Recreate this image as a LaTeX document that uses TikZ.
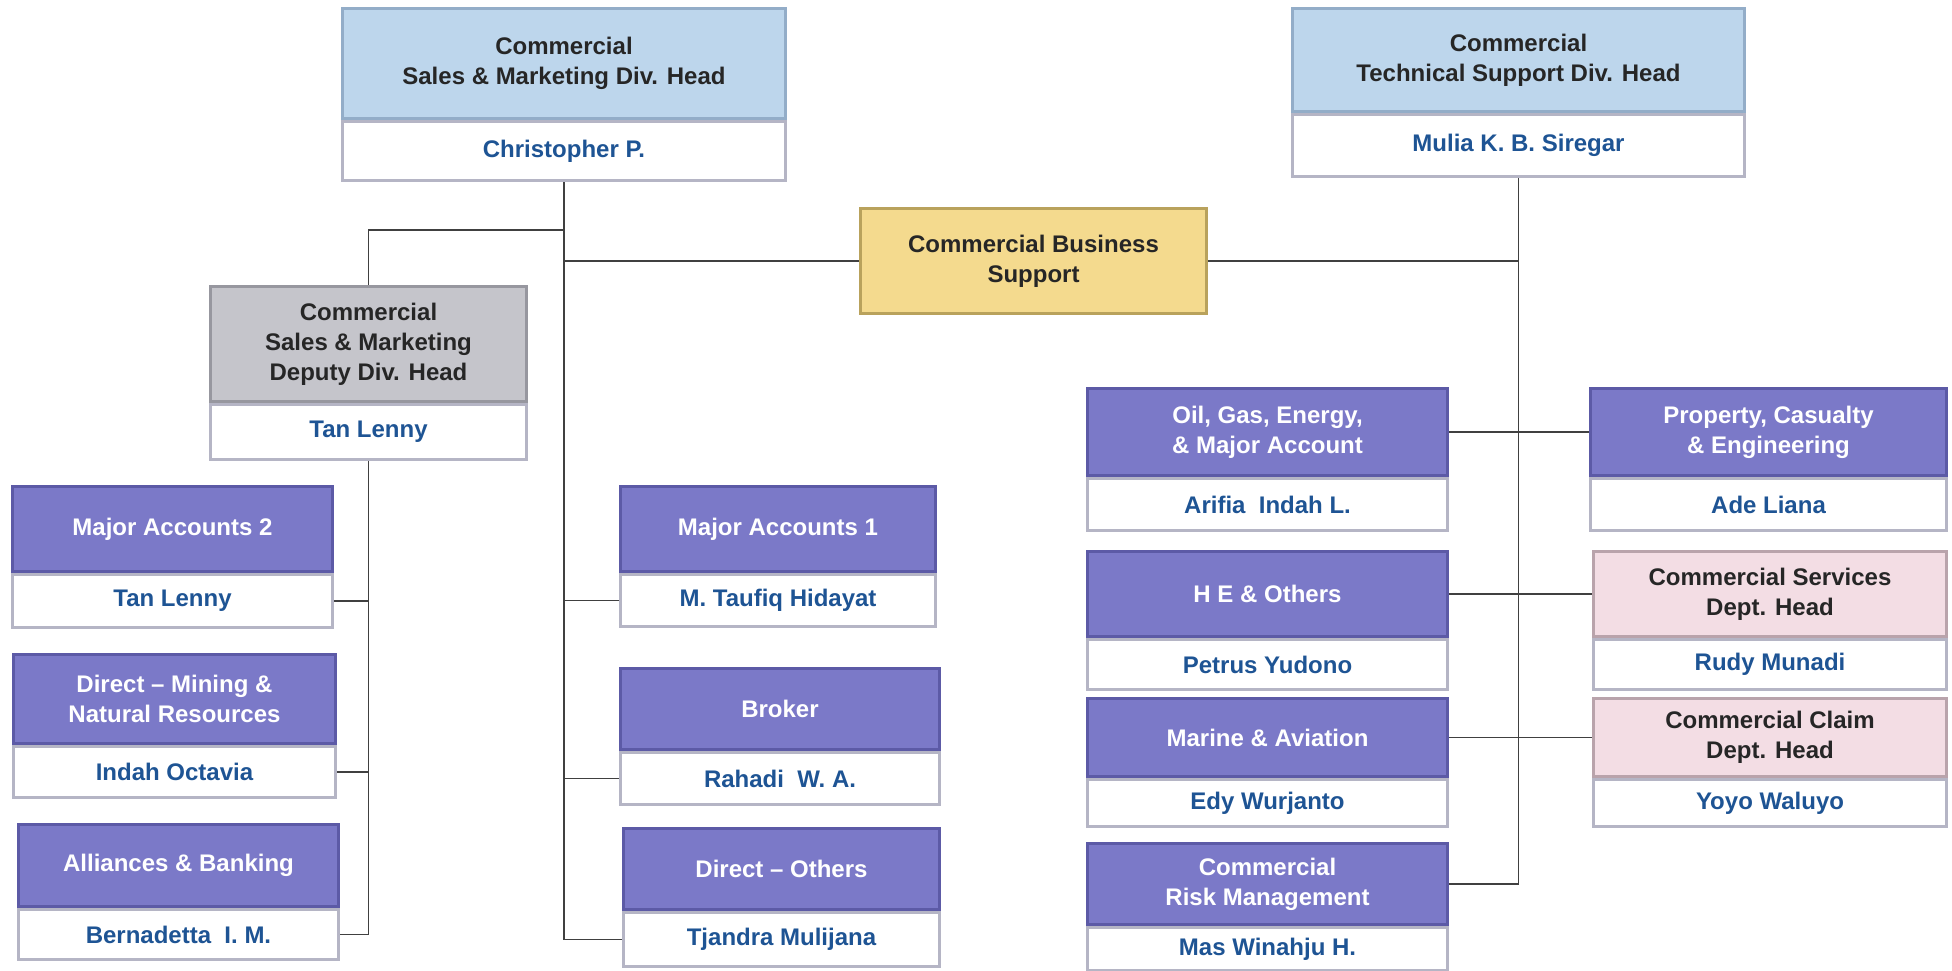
\documentclass[tikz,border=0pt]{standalone}
\usepackage{fontspec}
\setmainfont{Liberation Sans}
\usetikzlibrary{positioning}

\definecolor{headblue}{HTML}{BDD6EC}
\definecolor{headedge}{HTML}{93ADC8}
\definecolor{unitpurple}{HTML}{7B79C8}
\definecolor{unitedge}{HTML}{5C5AA6}
\definecolor{deputygray}{HTML}{C5C5CB}
\definecolor{deputyedge}{HTML}{97979F}
\definecolor{supportyellow}{HTML}{F4DA8E}
\definecolor{supportedge}{HTML}{B9A25C}
\definecolor{deptpink}{HTML}{F3DDE4}
\definecolor{deptedge}{HTML}{B9A3AB}
\definecolor{nameedge}{HTML}{B5B5C5}
\definecolor{nameblue}{HTML}{1E5494}

\begin{document}
\begin{tikzpicture}[x=1pt, y=-1pt,
    font=\fontsize{24}{30}\selectfont\bfseries,
    role/.style={line width=3pt, inner sep=0pt, align=center, anchor=north west},
    headrole/.style={role, fill=headblue, draw=headedge, text=black!85},
    deputyrole/.style={role, fill=deputygray, draw=deputyedge, text=black!85},
    supportrole/.style={role, fill=supportyellow, draw=supportedge, text=black!85},
    deptrole/.style={role, fill=deptpink, draw=deptedge, text=black!85},
    unit/.style={role, fill=unitpurple, draw=unitedge, text=white},
    person/.style={line width=3pt, inner sep=0pt, align=center, fill=white, draw=nameedge, text=nameblue},
    link/.style={draw=black!75, line width=1.6pt}]

    \path[use as bounding box] (0,0) rectangle (1952,970);

    % division heads
    \node[headrole, minimum width=443pt, minimum height=110pt] (sales) at (341,7) {Commercial\\Sales \& Marketing Div. Head};
    \node[person, minimum width=443pt, minimum height=59pt, below=0pt of sales] (salesname) {Christopher P.};
    \node[headrole, minimum width=452pt, minimum height=103pt] (tech) at (1291,7) {Commercial\\Technical Support Div. Head};
    \node[person, minimum width=452pt, minimum height=62pt, below=0pt of tech] (techname) {Mulia K. B. Siregar};

    \node[supportrole, minimum width=346pt, minimum height=105pt] (cbs) at (859,207) {Commercial Business\\Support};

    \node[deputyrole, minimum width=316pt, minimum height=115pt] (deputy) at (209,285) {Commercial\\Sales \& Marketing\\Deputy Div. Head};
    \node[person, minimum width=316pt, minimum height=55pt, below=0pt of deputy] (deputyname) {Tan Lenny};

    % sales & marketing units
    \node[unit, minimum width=320pt, minimum height=85pt] (majtwo) at (11,485) {Major Accounts 2};
    \node[person, minimum width=320pt, minimum height=53pt, below=0pt of majtwo] (majtwoname) {Tan Lenny};
    \node[unit, minimum width=322pt, minimum height=89pt] (mining) at (12,653) {Direct -- Mining \&\\Natural Resources};
    \node[person, minimum width=322pt, minimum height=51pt, below=0pt of mining] (miningname) {Indah Octavia};
    \node[unit, minimum width=320pt, minimum height=82pt] (banking) at (17,823) {Alliances \& Banking};
    \node[person, minimum width=320pt, minimum height=50pt, below=0pt of banking] (bankingname) {Bernadetta~~I. M.};

    \node[unit, minimum width=315pt, minimum height=85pt] (majone) at (619,485) {Major Accounts 1};
    \node[person, minimum width=315pt, minimum height=52pt, below=0pt of majone] (majonename) {M. Taufiq Hidayat};
    \node[unit, minimum width=319pt, minimum height=81pt] (broker) at (619,667) {Broker};
    \node[person, minimum width=319pt, minimum height=52pt, below=0pt of broker] (brokername) {Rahadi~~W. A.};
    \node[unit, minimum width=316pt, minimum height=81pt] (others) at (622,827) {Direct -- Others};
    \node[person, minimum width=316pt, minimum height=54pt, below=0pt of others] (othersname) {Tjandra Mulijana};

    % technical support units
    \node[unit, minimum width=360pt, minimum height=87pt] (oil) at (1086,387) {Oil, Gas, Energy,\\\& Major Account};
    \node[person, minimum width=360pt, minimum height=52pt, below=0pt of oil] (oilname) {Arifia~~Indah L.};
    \node[unit, minimum width=356pt, minimum height=87pt] (property) at (1589,387) {Property, Casualty\\\& Engineering};
    \node[person, minimum width=356pt, minimum height=52pt, below=0pt of property] (propertyname) {Ade Liana};
    \node[unit, minimum width=360pt, minimum height=85pt] (heavy) at (1086,550) {H E \& Others};
    \node[person, minimum width=360pt, minimum height=50pt, below=0pt of heavy] (heavyname) {Petrus Yudono};
    \node[deptrole, minimum width=353pt, minimum height=85pt] (services) at (1592,550) {Commercial Services\\Dept. Head};
    \node[person, minimum width=353pt, minimum height=50pt, below=0pt of services] (servicesname) {Rudy Munadi};
    \node[unit, minimum width=360pt, minimum height=78pt] (marine) at (1086,697) {Marine \& Aviation};
    \node[person, minimum width=360pt, minimum height=47pt, below=0pt of marine] (marinename) {Edy Wurjanto};
    \node[deptrole, minimum width=353pt, minimum height=78pt] (claim) at (1592,697) {Commercial Claim\\Dept. Head};
    \node[person, minimum width=353pt, minimum height=47pt, below=0pt of claim] (claimname) {Yoyo Waluyo};
    \node[unit, minimum width=360pt, minimum height=81pt] (risk) at (1086,842) {Commercial\\Risk Management};
    \node[person, minimum width=360pt, minimum height=43pt, below=0pt of risk] (riskname) {Mas Winahju H.};

    % lines
    \coordinate (deputyjoin) at (563,230);
    \draw[link] (salesname.south) |- (othersname.west);
    \draw[link] (deputy.north) |- (deputyjoin);
    \draw[link] (cbs.west) -- (cbs.west -| salesname.south);
    \draw[link] (majonename.west) -- (majonename.west -| salesname.south);
    \draw[link] (brokername.west) -- (brokername.west -| salesname.south);

    \draw[link] (deputyname.south) |- (bankingname.east);
    \draw[link] (majtwoname.east) -- (majtwoname.east -| deputyname.south);
    \draw[link] (miningname.east) -- (miningname.east -| deputyname.south);

    \draw[link] (techname.south) |- (risk.east);
    \draw[link] (cbs.east) -- (cbs.east -| techname.south);
    \draw[link] (oil.east) -- (property.west);
    \draw[link] (heavy.east) -- (services.west);
    \draw[link] (marine.east) -- (claim.west);
\end{tikzpicture}
\end{document}
